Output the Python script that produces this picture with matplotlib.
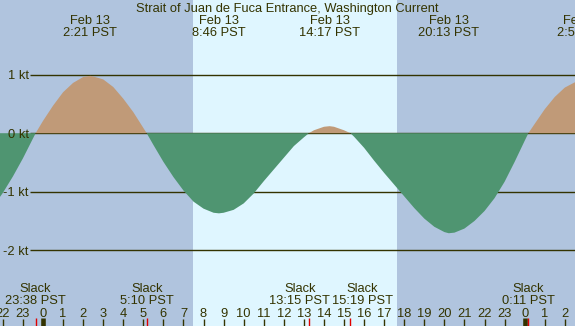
import matplotlib
matplotlib.use("Agg")
import matplotlib.pyplot as plt
from matplotlib.transforms import blended_transform_factory, offset_copy

# tidal current, Strait of Juan de Fuca Entrance, hours from midnight Feb 13
hours = [-2.5, -2.0, -1.5, -1.0, -0.5, 0.0, 0.5, 1.0, 1.5, 2.0, 2.5, 3.0, 3.5,
         4.0, 4.5, 5.0, 5.5, 6.0, 6.5, 7.0, 7.5, 8.0, 8.5, 9.0, 9.5, 10.0,
         10.5, 11.0, 11.5, 12.0, 12.5, 13.0, 13.5, 14.0, 14.5, 15.0, 15.5,
         16.0, 16.5, 17.0, 17.5, 18.0, 18.5, 19.0, 19.5, 20.0, 20.5, 21.0,
         21.5, 22.0, 22.5, 23.0, 23.5, 24.0, 24.5, 25.0, 25.5, 26.0, 26.5, 27.0]
speed = [-1.26, -1.02, -0.74, -0.43, -0.09, 0.21, 0.47, 0.70, 0.86, 0.96, 0.97,
         0.92, 0.79, 0.59, 0.36, 0.09, -0.20, -0.49, -0.75, -0.98, -1.17, -1.29,
         -1.36, -1.36, -1.31, -1.20, -1.03, -0.82, -0.62, -0.42, -0.22, -0.07,
         0.05, 0.11, 0.11, 0.05, -0.06, -0.25, -0.47, -0.68, -0.88, -1.08, -1.28,
         -1.46, -1.60, -1.69, -1.70, -1.63, -1.50, -1.33, -1.11, -0.83, -0.49,
         -0.13, 0.16, 0.41, 0.62, 0.78, 0.87, 0.90]

slack_clock = ["23:38", "5:10", "13:15", "15:19", "0:11"]
slack_day = [-1, 0, 0, 0, 1]
max_clock = ["2:21", "8:46", "14:17", "20:13", "2:56"]
max_day = [0, 0, 0, 0, 1]
max_date = ["Feb 13", "Feb 13", "Feb 13", "Feb 13", "Feb 14"]
max_speed = [0.98, -1.37, 0.12, -1.71, 0.90]

sunrise = 7.47
sunset = 17.62

hour_ticks = list(range(-2, 27))
kt_levels = [1, 0, -1, -2]


def to_hours(clock, day):
    h, m = clock.split(":")
    return day * 24 + int(h) + int(m) / 60.0


slack_t = [to_hours(c, d) for c, d in zip(slack_clock, slack_day)]
max_t = [to_hours(c, d) for c, d in zip(max_clock, max_day)]

# merge event points into the curve
pts = sorted(list(zip(hours, speed)) + [(t, 0.0) for t in slack_t]
             + list(zip(max_t, max_speed)))
ct = [p[0] for p in pts]
cv = [p[1] for p in pts]

W, H = 575, 326
px_hr = 20.07
x0 = 43.0
py_kt = 58.5
y0 = 133.2

night = "#b0c4de"
day = "#dff6ff"
flood = "#c09a78"
ebb = "#4f9571"
ink = "#333300"
fnt = "Liberation Sans"
fs = 9.3

# slack labels that would collide are nudged apart (pixels)
slack_nudge = [0, 0, -9, 12, 0]

fig = plt.figure(figsize=(W / 100, H / 100), dpi=100)
fig.patch.set_facecolor(night)
ax = fig.add_axes([0, 0, 1, 1])
ax.set_facecolor(night)
ax.set_xlim(-x0 / px_hr, (W - x0) / px_hr)
ax.set_ylim(-(H - y0) / py_kt, y0 / py_kt)
ax.axis("off")

ax.axvspan(sunrise, sunset, color=day, lw=0, zorder=0)

# horizontal kt lines, under the fill
for k in kt_levels:
    ax.plot([30 / px_hr - x0 / px_hr, (W - x0) / px_hr], [k, k], color=ink, lw=1, zorder=1,
            solid_capstyle="butt")
    ax.text(28.5 / px_hr - x0 / px_hr, k, "%d kt" % k, ha="right", va="baseline",
            color=ink, fontsize=fs, family=fnt,
            transform=offset_copy(ax.transData, fig=fig, y=-4.5, units="dots"))

ax.fill_between(ct, cv, 0, where=[v >= 0 for v in cv], interpolate=True,
                color=flood, lw=0, zorder=2)
ax.fill_between(ct, cv, 0, where=[v <= 0 for v in cv], interpolate=True,
                color=ebb, lw=0, zorder=2)

# y in pixels from top of figure
tr = blended_transform_factory(ax.transData, fig.transFigure)


def fy(p):
    return 1 - p / H


ax.text(0.5, fy(12), "Strait of Juan de Fuca Entrance, Washington Current",
        transform=blended_transform_factory(fig.transFigure, fig.transFigure),
        ha="center", va="baseline", color=ink, fontsize=fs, family=fnt)

for t, d, c in zip(max_t, max_date, max_clock):
    ax.text(t, fy(24), d, transform=tr, ha="center", va="baseline",
            color=ink, fontsize=fs, family=fnt)
    ax.text(t, fy(36), c + " PST", transform=tr, ha="center", va="baseline",
            color=ink, fontsize=fs, family=fnt)

for t, c, n in zip(slack_t, slack_clock, slack_nudge):
    tt = t + n / px_hr
    ax.text(tt, fy(292), "Slack", transform=tr, ha="center", va="baseline",
            color=ink, fontsize=fs, family=fnt)
    ax.text(tt, fy(303.5), c + " PST", transform=tr, ha="center", va="baseline",
            color=ink, fontsize=fs, family=fnt)
    ax.plot([t, t], [fy(318), fy(326)], transform=tr, color="#e00000", lw=1,
            solid_capstyle="butt", zorder=4)

for h in hour_ticks:
    ax.text(h, fy(316.7), str(h % 24), transform=tr, ha="center", va="baseline",
            color=ink, fontsize=fs, family=fnt)
    if h % 24 == 0:
        ax.plot([h, h], [fy(318), fy(326)], transform=tr, color=ink, lw=3.3,
                solid_capstyle="butt", zorder=3)
    else:
        ax.plot([h, h], [fy(319), fy(326)], transform=tr, color=ink, lw=1,
                solid_capstyle="butt", zorder=3)

fig.savefig("out.png", dpi=100, facecolor=night)
